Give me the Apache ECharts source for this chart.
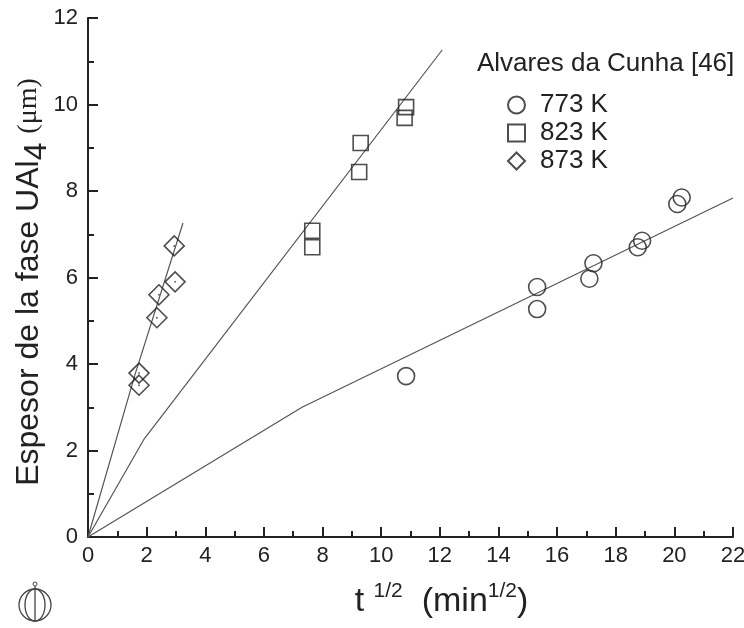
<!DOCTYPE html>
<html>
<head>
<meta charset="utf-8">
<script src="https://cdn.jsdelivr.net/npm/echarts@6/dist/echarts.min.js"></script>
<style>
  html, body { margin: 0; padding: 0; background: #fff; }
  #main { width: 744px; height: 628px; }
</style>
</head>
<body>
<div id="main"></div>
<script>
// measured points, [t^1/2, espesor]
var k773 = [[10.85,3.72],[15.32,5.78],[15.32,5.27],[17.1,5.97],[17.24,6.33],[18.75,6.7],[18.9,6.85],[20.1,7.7],[20.25,7.85]];
var k823 = [[7.65,7.08],[7.65,6.7],[9.3,9.11],[9.25,8.44],[10.85,9.94],[10.8,9.69]];
var k873 = [[1.74,3.79],[1.74,3.51],[2.35,5.07],[2.42,5.6],[2.97,5.9],[2.94,6.73]];
// fitted curves (as drawn)
var fit773 = [[0,0],[7.3,3.0],[22,7.84]];
var fit823 = [[0,0],[1.9,2.25],[12.08,11.26]];
var fit873 = [[0,0],[1.6,3.75],[3.24,7.26]];
var legendNames = ['773 K','823 K','873 K'];
var legendTitle = 'Alvares da Cunha [46]';
var yTitle = 'Espesor de la fase UAl{sub|4} {tm|(\u03bcm)}';

var chart = echarts.init(document.getElementById('main'));
var fitLine = {color:'#555', width:1.2};
var markStyle = {color:'transparent', borderColor:'#222', borderWidth:1.6};

chart.setOption({
  animation:false,
  textStyle:{fontFamily:'Liberation Sans, Arial, sans-serif'},
  title:{
    text:legendTitle, left:472, top:46,
    textStyle:{fontSize:26, fontWeight:'normal', color:'#222'}
  },
  legend:{
    data:legendNames, orient:'vertical', left:502, top:86,
    itemWidth:17, itemHeight:17, itemGap:0,
    textStyle:{fontSize:26, lineHeight:28, color:'#222', padding:[0,0,0,10]}
  },
  grid:{left:88, right:11, top:18, bottom:91, outerBoundsMode:'none'},
  xAxis:{
    type:'value', min:0, max:22, interval:2,
    name:'t {sup|1/2}  (min{sup|1/2})', nameLocation:'middle', nameGap:44,
    nameTextStyle:{fontSize:34, color:'#222', lineHeight:42, padding:[0,0,0,62],
      rich:{sup:{fontSize:21, verticalAlign:'top', lineHeight:42, color:'#222'}}},
    axisLine:{lineStyle:{color:'#222', width:2}},
    axisTick:{inside:true, length:10, lineStyle:{color:'#222', width:2}},
    minorTick:{show:true, splitNumber:2, length:6, lineStyle:{color:'#222', width:2}},
    axisLabel:{fontSize:22, color:'#222', margin:8},
    splitLine:{show:false}
  },
  yAxis:{
    type:'value', min:0, max:12, interval:2,
    axisLine:{show:true, lineStyle:{color:'#222', width:2}},
    axisTick:{inside:true, length:10, lineStyle:{color:'#222', width:2}},
    minorTick:{show:true, splitNumber:2, length:6, lineStyle:{color:'#222', width:2}},
    axisLabel:{fontSize:22, color:'#222', margin:10},
    splitLine:{show:false}
  },
  graphic:[
    {type:'text', x:29, y:282, rotation:Math.PI/2,
      style:{text:yTitle, fontSize:32, fontFamily:'Liberation Sans, Arial, sans-serif', fill:'#222',
        align:'center', verticalAlign:'middle', lineHeight:40,
        rich:{sub:{fontSize:32, verticalAlign:'bottom', lineHeight:48, fill:'#222', fontFamily:'Liberation Sans, Arial, sans-serif'},
              tm:{fontSize:28, fontFamily:'Liberation Serif, Times New Roman, serif', fill:'#222'}}}},
    {type:'circle', shape:{cx:35, cy:605, r:16}, style:{fill:'none', stroke:'#444', lineWidth:1.3}},
    {type:'ellipse', shape:{cx:35, cy:605, rx:10, ry:16}, style:{fill:'none', stroke:'#444', lineWidth:1.3}},
    {type:'line', shape:{x1:35, y1:586, x2:35, y2:621}, style:{stroke:'#444', lineWidth:1.3}},
    {type:'circle', shape:{cx:35, cy:584, r:2}, style:{fill:'none', stroke:'#444', lineWidth:1}}
  ],
  series:[
    {name:'fit773', type:'line', data:fit773, symbol:'none', lineStyle:fitLine, silent:true, z:1},
    {name:'fit823', type:'line', data:fit823, symbol:'none', lineStyle:fitLine, silent:true, z:1},
    {name:'fit873', type:'line', data:fit873, symbol:'none', lineStyle:fitLine, silent:true, z:1},
    {name:'773 K', type:'scatter', data:k773, symbol:'circle', symbolSize:17, itemStyle:markStyle, z:3},
    {name:'823 K', type:'scatter', data:k823, symbol:'rect', symbolSize:15, itemStyle:markStyle, z:3},
    {name:'873 K', type:'scatter', data:k873, symbol:'diamond', symbolSize:[20,20], itemStyle:markStyle, z:3},
    {name:'873dot', type:'scatter', data:k873, symbol:'circle', symbolSize:2, itemStyle:{color:'#444'}, z:4}
  ]
});
</script>
</body>
</html>
